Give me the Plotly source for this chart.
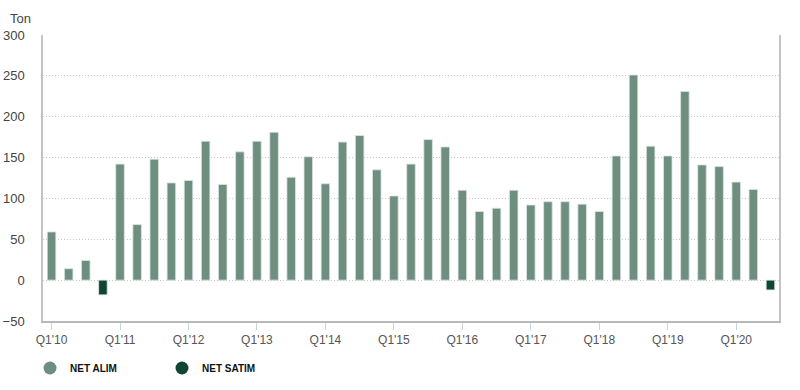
import plotly.graph_objects as go

quarters = [f"Q{q}'{y:02d}" for y in range(10, 21) for q in range(1, 5)][:43]
net_alim = [59, 14, 24, None,
            142, 68, 148, 119,
            122, 170, 117, 157,
            170, 181, 126, 151,
            118, 169, 177, 135,
            103, 142, 172, 163,
            110, 84, 88, 110,
            92, 96, 96, 93,
            84, 152, 251, 164,
            152, 231, 141, 139,
            120, 111, None]
net_satim = [None, None, None, -18] + [None] * 38 + [-12]
tick_labels = [f"Q1'{y:02d}" for y in range(10, 21)]
y_ticks = [-50, 0, 50, 100, 150, 200, 250, 300]

c_alim = "#6e8f80"
c_satim = "#0f4631"

fig = go.Figure()
fig.add_trace(go.Bar(x=quarters, y=net_alim, marker=dict(color=c_alim, line=dict(color="#dde6e1", width=0.8)),
                     showlegend=False, name="NET ALIM"))
fig.add_trace(go.Bar(x=quarters, y=net_satim, marker=dict(color=c_satim, line=dict(color="#dde6e1", width=0.8)),
                     showlegend=False, name="NET SATIM"))
# legend entries (circle symbols)
fig.add_trace(go.Scatter(x=[None], y=[None], mode="markers", name="NET ALIM",
                         marker=dict(color=c_alim, size=13, symbol="circle")))
fig.add_trace(go.Scatter(x=[None], y=[None], mode="markers", name="NET SATIM",
                         marker=dict(color=c_satim, size=13, symbol="circle")))

fig.update_layout(
    width=800, height=390,
    margin=dict(l=43, r=21, t=35, b=69, autoexpand=False),
    paper_bgcolor="white", plot_bgcolor="white",
    barmode="overlay", bargap=0.5,
    font=dict(family="Liberation Sans, Arial, sans-serif", size=12, color="#555555"),
    legend=dict(orientation="h", xref="container", yref="container",
                x=0.0375, xanchor="left", y=0.0564, yanchor="middle",
                font=dict(size=10, color="#111111", family="Liberation Sans, Arial, sans-serif", weight="bold"),
                entrywidth=87, entrywidthmode="pixels", itemwidth=30),
    annotations=[dict(text="Ton", xref="paper", yref="paper", x=-0.048, y=1.056,
                      xanchor="left", yanchor="middle", showarrow=False,
                      font=dict(size=13, color="#444444"))],
)
fig.update_xaxes(
    type="category", categoryorder="array", categoryarray=quarters,
    tickmode="array", tickvals=tick_labels, ticktext=tick_labels,
    showline=True, linecolor="#b8b8b8", linewidth=1.5,
    ticks="outside", ticklen=7, tickcolor="#c8d4ea", tickwidth=1,
    showgrid=False, tickfont=dict(size=12, color="#555555"), automargin=False,
)
fig.update_yaxes(
    range=[-50, 300], tickmode="array", tickvals=y_ticks,
    showgrid=True, gridcolor="#c8c8c8", griddash="1px,2px", gridwidth=1,
    zeroline=False, showline=True, mirror=True, linecolor="#c4c4c4", linewidth=1.5,
    ticks="", ticklabelstandoff=14, tickfont=dict(size=13, color="#444444"), automargin=False,
)
fig.write_html("out.html", config={"displayModeBar": False},
               post_script="document.body.style.margin='0';")
